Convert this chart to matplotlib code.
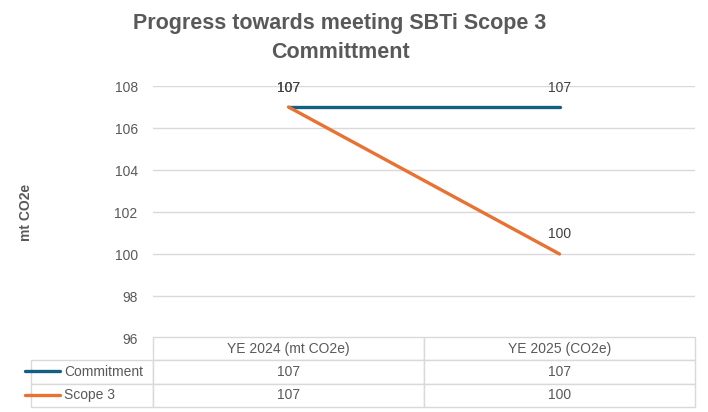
import matplotlib.pyplot as plt
from matplotlib.lines import Line2D

categories = ["YE 2024 (mt CO2e)", "YE 2025 (CO2e)"]
series_names = ["Commitment", "Scope 3"]
commitment = [107, 107]
scope3 = [107, 100]
y_ticks = [96, 98, 100, 102, 104, 106, 108]

colours = ["#156082", "#E97132"]
grey = "#595959"
grid = "#D9D9D9"

plt.rcParams['font.family'] = ['Liberation Sans', 'DejaVu Sans']

W, H = 708, 412
fig = plt.figure(figsize=(W / 100, H / 100), dpi=100)
ax = fig.add_axes([153 / W, 1 - 338 / H, 542 / W, 252 / H])

xs = [i + 0.5 for i in range(len(categories))]
for name, vals, col in zip(series_names, [commitment, scope3], colours):
    ax.plot(xs, vals, color=col, lw=2.4, solid_capstyle='round', label=name)
    for x, v in zip(xs, vals):
        ax.annotate(str(v), (x, v), xytext=(0, 9), textcoords='offset points',
                    ha='center', va='bottom', fontsize=10, color="#404040")

ax.set_xlim(0, len(categories))
ax.set_ylim(y_ticks[0], y_ticks[-1])
ax.set_yticks(y_ticks)
ax.set_xticks([])
ax.tick_params(axis='y', length=0, pad=11, labelsize=10, labelcolor=grey)
ax.grid(axis='y', color=grid, lw=1)
ax.set_axisbelow(True)
for s in ax.spines.values():
    s.set_visible(False)
ax.set_ylabel("mt CO2e", fontsize=10, fontweight='bold', color=grey)
ax.yaxis.set_label_coords((33 - 153) / 542, 0.5)

fig.text(340 / W, 1 - 38 / H, "Progress towards meeting SBTi Scope 3\nCommittment",
         ha='center', va='center', fontsize=15.5, fontweight='bold', color=grey,
         linespacing=1.5)

# data table under the plot; bbox covers the data cells only, labels sit left of it
cell_text = [[str(v) for v in commitment], [str(v) for v in scope3]]
tab = ax.table(cellText=cell_text, rowLabels=series_names, colLabels=categories,
               cellLoc='center', rowLoc='left',
               bbox=[0, (5 - 74) / 252, 1, 70 / 252])
tab.auto_set_font_size(False)
tab.set_fontsize(10)
for (r, c), cell in tab.get_celld().items():
    cell.set_edgecolor(grid)
    cell.set_linewidth(1)
    cell.get_text().set_color(grey)
    cell.set_width((132 if c == -1 else 271) / 542)
    if c == -1:
        cell.PAD = 36 / 132

row_y = [371, 395]
for y, col in zip(row_y, colours):
    fig.add_artist(Line2D([25 / W, 60 / W], [1 - y / H, 1 - y / H], color=col,
                          lw=2.4, solid_capstyle='round'))

fig.savefig("out.png", dpi=100)
